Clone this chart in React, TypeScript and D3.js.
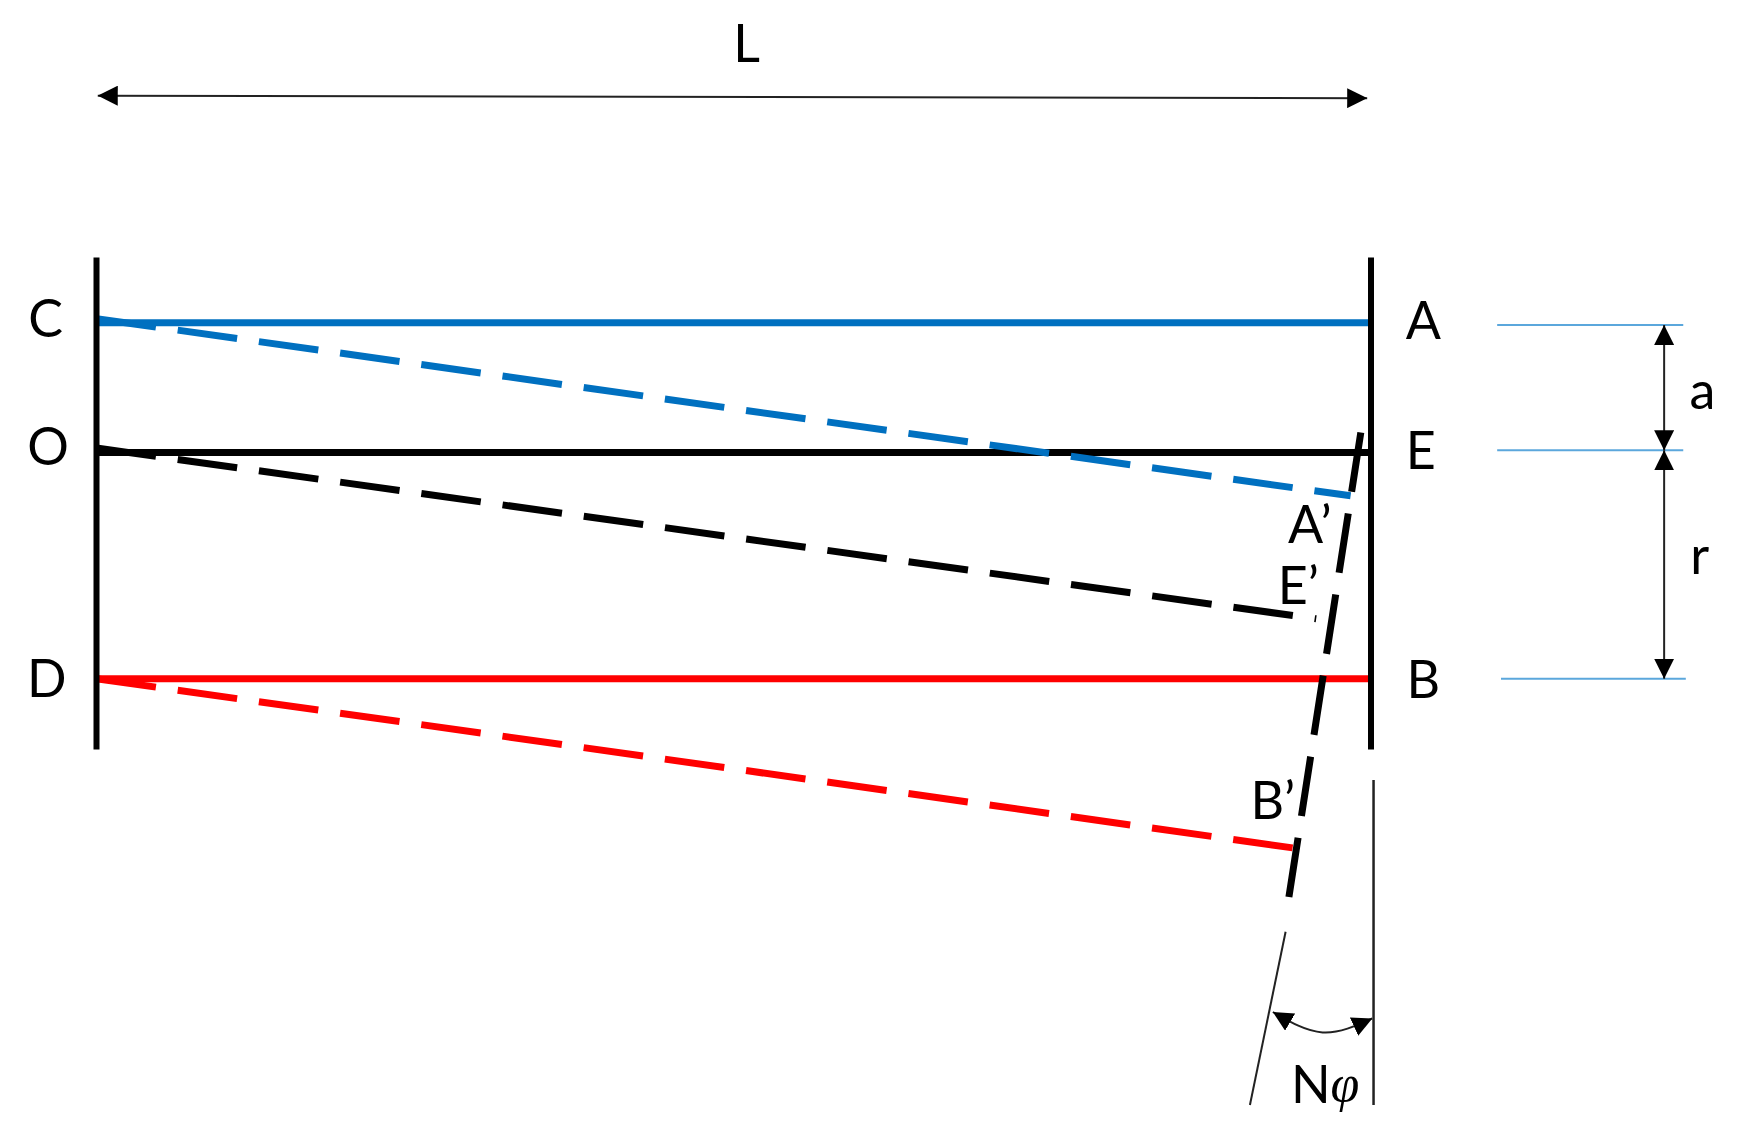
import * as d3 from 'd3'

const WIDTH = 1739
const HEIGHT = 1146

// diagram units: x = 0 at the left wall, 100 at the right wall; y = 0 on line OE
const walls = [
  { x: 0, top: 15.3, bottom: -23.3 },
  { x: 100, top: 15.3, bottom: -23.3 },
]
const solidRays = [
  { name: 'CA', y: 10.18, color: '#0070c0' },
  { name: 'OE', y: 0, color: '#000000' },
  { name: 'DB', y: -17.75, color: '#ff0000' },
]
const dashedRays = [
  { name: "CA'", y0: 10.5, x1: 98.4, y1: -3.4, color: '#0070c0' },
  { name: "OE'", y0: 0.35, x1: 95.7, y1: -13.05, color: '#000000' },
  { name: "DB'", y0: -17.75, x1: 94.4, y1: -31.1, color: '#ff0000' },
]
const tiltedEnd = { x0: 99.2, y0: 1.57, x1: 93.4, y1: -35.9 }
const angleLeg = { x0: 93.3, y0: -37.6, x1: 90.5, y1: -51.2 }
const angleRef = { x: 100.2, y0: -25.7, y1: -51.2 }
const angleArc: [number, number][] = [[92.3, -43.9], [96.2, -45.5], [100.1, -44.4]]
const lengthArrow = { x0: 0.1, y0: 28, x1: 99.7, y1: 27.8 }
const guides = [
  { x0: 109.9, x1: 124.5, y: 10 },
  { x0: 109.9, x1: 124.5, y: 0.17 },
  { x0: 110.2, x1: 124.7, y: -17.75 },
]
const dimArrows = [
  { x: 123, y0: 10, y1: 0.17 },
  { x: 123, y0: 0.17, y1: -17.75 },
]
const labels = [
  { text: 'L', x: 51, y: 32.2 },
  { text: 'C', x: -4, y: 10.6 },
  { text: 'O', x: -3.8, y: 0.6 },
  { text: 'D', x: -3.9, y: -17.6 },
  { text: 'A', x: 104.1, y: 10.5 },
  { text: 'E', x: 103.9, y: 0.3 },
  { text: 'B', x: 104.1, y: -17.7 },
  { text: 'a', x: 126, y: 5 },
  { text: 'r', x: 125.8, y: -8 },
  { text: 'A’', x: 95.2, y: -5.5 },
  { text: 'E’', x: 94.3, y: -10.3 },
  { text: 'B’', x: 92.3, y: -27.2 },
]
const angleLabel = { n: 'N', phi: 'φ', x: 96.4, y: -49.5 }

const x = d3.scaleLinear().domain([0, 100]).range([96.5, 1371])
const y = d3.scaleLinear().domain([0, -10]).range([452.5, 579.95])
const arc = d3.line<[number, number]>().x(d => x(d[0])).y(d => y(d[1])).curve(d3.curveNatural)

const DASH = '60 22'
const LABEL_FONT = 'Lato, "Open Sans", sans-serif'

export default function App() {
  return (
    <svg width={WIDTH} height={HEIGHT} viewBox={`0 0 ${WIDTH} ${HEIGHT}`}
      style={{ position: 'absolute', left: 0, top: 0, background: '#fff' }}>
      <defs>
        <marker id="head" viewBox="0 0 20 20" refX="20" refY="10" markerWidth="20" markerHeight="20"
          markerUnits="userSpaceOnUse" orient="auto-start-reverse">
          <path d="M0,0L20,10L0,20Z" fill="#000" />
        </marker>
      </defs>

      {/* thin guides on the right */}
      {guides.map((g, i) => (
        <line key={i} x1={x(g.x0)} x2={x(g.x1)} y1={y(g.y)} y2={y(g.y)} stroke="#5ba7dc" strokeWidth={2} />
      ))}

      {/* solid rays */}
      {solidRays.map(r => (
        <line key={r.name} x1={x(0)} x2={x(100)} y1={y(r.y)} y2={y(r.y)} stroke={r.color} strokeWidth={7} />
      ))}

      {/* deflected rays */}
      {dashedRays.map(r => (
        <line key={r.name} x1={x(0)} y1={y(r.y0)} x2={x(r.x1)} y2={y(r.y1)}
          stroke={r.color} strokeWidth={7} strokeDasharray={DASH} />
      ))}

      {/* walls */}
      {walls.map(w => (
        <line key={w.x} x1={x(w.x)} x2={x(w.x)} y1={y(w.top)} y2={y(w.bottom)} stroke="#000" strokeWidth={6} />
      ))}

      <line x1={x(tiltedEnd.x0)} y1={y(tiltedEnd.y0)} x2={x(tiltedEnd.x1)} y2={y(tiltedEnd.y1)}
        stroke="#000" strokeWidth={7} strokeDasharray={DASH} />

      {/* angle construction */}
      <line x1={x(angleLeg.x0)} y1={y(angleLeg.y0)} x2={x(angleLeg.x1)} y2={y(angleLeg.y1)} stroke="#222" strokeWidth={2} />
      <line x1={x(angleRef.x)} x2={x(angleRef.x)} y1={y(angleRef.y0)} y2={y(angleRef.y1)} stroke="#222" strokeWidth={2.5} />
      <path d={arc(angleArc) ?? ''} fill="none" stroke="#222" strokeWidth={2}
        markerStart="url(#head)" markerEnd="url(#head)" />

      {/* dimension arrows */}
      <line x1={x(lengthArrow.x0)} y1={y(lengthArrow.y0)} x2={x(lengthArrow.x1)} y2={y(lengthArrow.y1)}
        stroke="#222" strokeWidth={2} markerStart="url(#head)" markerEnd="url(#head)" />
      {dimArrows.map((d, i) => (
        <line key={i} x1={x(d.x)} x2={x(d.x)} y1={y(d.y0)} y2={y(d.y1)}
          stroke="#222" strokeWidth={2} markerStart="url(#head)" markerEnd="url(#head)" />
      ))}

      {/* labels */}
      {labels.map(l => (
        <text key={l.text} x={x(l.x)} y={y(l.y)} textAnchor="middle" dominantBaseline="central"
          fontFamily={LABEL_FONT} fontSize={52} fill="#000">{l.text}</text>
      ))}
      <text x={x(angleLabel.x)} y={y(angleLabel.y)} textAnchor="middle" dominantBaseline="central"
        fontFamily={LABEL_FONT} fontSize={52} fill="#000">
        {angleLabel.n}
        <tspan fontStyle="italic" fontFamily="'Liberation Serif', serif">{angleLabel.phi}</tspan>
      </text>
    </svg>
  )
}
